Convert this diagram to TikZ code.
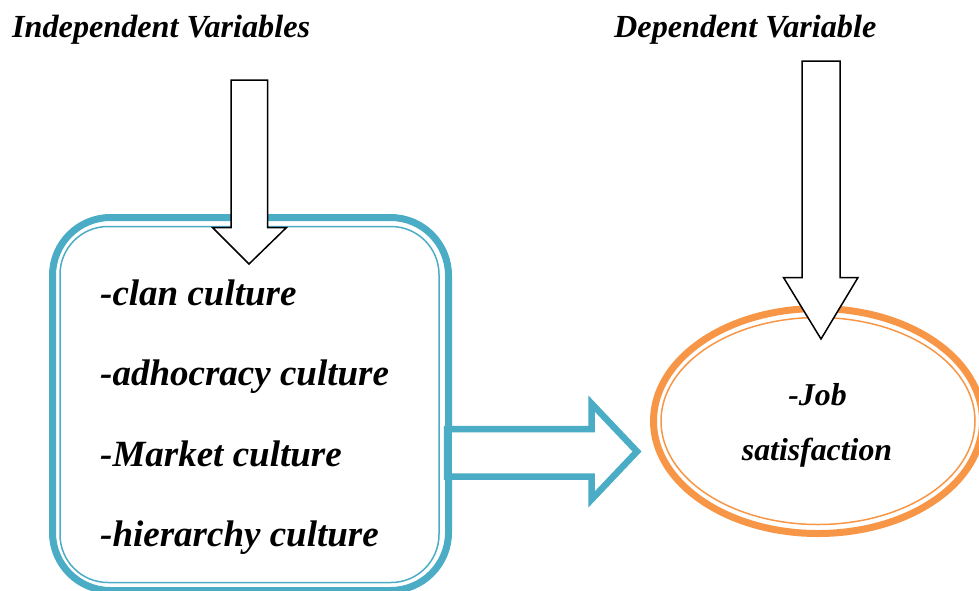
\documentclass[tikz,border=0pt]{standalone}
\usepackage{fontspec}
\setmainfont{Liberation Serif}
\definecolor{aqua}{HTML}{4BACC6}
\definecolor{orng}{HTML}{F79646}
\begin{document}
\begin{tikzpicture}[x=1pt,y=-1pt,
  title/.style={font=\fontsize{32.2}{38}\selectfont\bfseries\itshape, inner sep=0pt, anchor=base west},
  item/.style={font=\fontsize{37}{44}\selectfont\bfseries\itshape, inner sep=0pt, anchor=base west},
  jobtxt/.style={font=\fontsize{31.8}{38}\selectfont\bfseries\itshape, inner sep=0pt, anchor=base},
  blockarrow/.style={draw=black, fill=white, line width=1.5pt, line join=miter}]
\useasboundingbox (0,0) rectangle (979,590);
% titles
\node[title] (indep) at (12,37.5) {Independent Variables};
\node[title] (dep) at (614,37.5) {Dependent Variable};
% blue box
\draw[aqua, line width=7pt, rounded corners=58pt] (52.5,217.5) rectangle (448.5,590.5);
\draw[aqua, line width=1.5pt, rounded corners=48pt] (60,226.5) rectangle (439,582.5);
% blue arrow
\draw[aqua, line width=6.5pt, fill=white, line join=miter, miter limit=10]
  (447,429) -- (591.5,429) -- (591.5,403.5) -- (637,451.5) -- (591.5,499.5) -- (591.5,476.5) -- (447,476.5) -- cycle;
\draw[aqua, line width=7pt] (448.5,420) -- (448.5,486);
% ellipse
\draw[orng, line width=7pt] (818,421) ellipse [x radius=164.5, y radius=112.5];
\draw[orng, line width=1.5pt] (818,421) ellipse [x radius=157, y radius=103.5];
% black block arrows
\draw[blockarrow] (231,80) -- (267.5,80) -- (267.5,227.5) -- (286.5,227.5) -- (249,264) -- (212.5,227.5) -- (231,227.5) -- cycle;
\draw[blockarrow] (802,61) -- (840,61) -- (840,277.5) -- (858,277.5) -- (821,339) -- (783.5,277.5) -- (802,277.5) -- cycle;
% list
\node[item] (clan) at (100,305) {-clan culture};
\node[item] (adho) at (100,385) {-adhocracy culture};
\node[item] (mark) at (100,466) {-Market culture};
\node[item] (hier) at (100,546) {-hierarchy culture};
% job
\node[jobtxt] (job) at (817.5,405) {-Job};
\node[jobtxt] (sat) at (817,460) {satisfaction};
\end{tikzpicture}
\end{document}
